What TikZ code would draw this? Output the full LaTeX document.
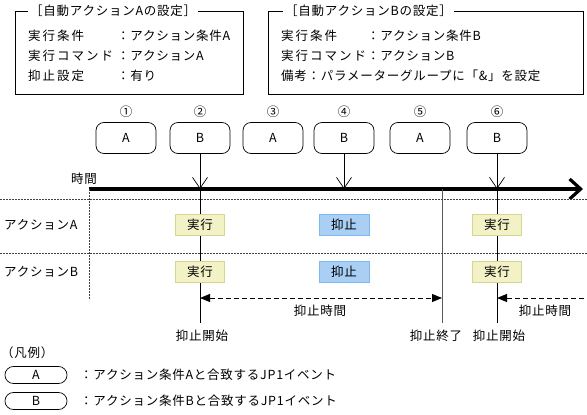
\documentclass[tikz,border=0pt]{standalone}
\usepackage{fontspec}
\setmainfont{Noto Sans CJK JP}[LetterSpace=6]
\usetikzlibrary{arrows.meta,positioning}
\definecolor{runfill}{HTML}{F2F2C6}
\definecolor{runline}{HTML}{D6D68E}
\definecolor{stopfill}{HTML}{A9CFF5}
\definecolor{stopline}{HTML}{7DB8F0}

\begin{document}
\begin{tikzpicture}[x=1pt,y=-1pt,
    font=\fontsize{12.5}{14}\selectfont,
    every node/.style={inner sep=0pt},
    setbox/.style={draw, line width=0.8pt},
    wide/.style={font=\fontsize{12.5}{14}\selectfont\addfontfeature{LetterSpace=16}},
    event/.style={draw, line width=0.7pt, rounded corners=8pt,
                  minimum width=60pt, minimum height=31pt},
    legbox/.style={draw, line width=0.7pt, rounded corners=8.4pt,
                   minimum width=62pt, minimum height=17pt},
    runbox/.style={draw=runline, fill=runfill, line width=0.8pt,
                   minimum width=49pt, minimum height=21pt},
    stopbox/.style={draw=stopline, fill=stopfill, line width=0.8pt,
                    minimum width=50pt, minimum height=21pt},
    hit/.style={line width=0.7pt, -{Straight Barb[length=11pt,width=15pt]}},
    grid/.style={draw=black!75, dash pattern=on 2pt off 1pt, line width=0.7pt},
    span/.style={line width=1pt, dash pattern=on 5pt off 3pt},
    spantip/.tip={Triangle[length=10pt,width=8pt]},
  ]
  \useasboundingbox (0,0) rectangle (587,415);

  % settings
  \draw[setbox] (15,11) rectangle (243,94);
  \node[fill=white, inner xsep=2pt, anchor=west] (titleA) at (28,11) {［自動アクションAの設定］};
  \node[wide, anchor=west] (condA) at (28,36) {実行条件};
  \node[anchor=west] (condAv) at (117,36) {：アクション条件A};
  \node[wide, anchor=west] (cmdA) at (28,56) {実行コマンド};
  \node[anchor=west] (cmdAv) at (117,56) {：アクションA};
  \node[wide, anchor=west] (supA) at (28,76) {抑止設定};
  \node[anchor=west] (supAv) at (117,76) {：有り};

  \draw[setbox] (268,11) rectangle (583,94);
  \node[fill=white, inner xsep=2pt, anchor=west] (titleB) at (283,11) {［自動アクションBの設定］};
  \node[wide, anchor=west] (condB) at (281,36) {実行条件};
  \node[anchor=west] (condBv) at (367,36) {：アクション条件B};
  \node[wide, anchor=west] (cmdB) at (281,56) {実行コマンド};
  \node[anchor=west] (cmdBv) at (367,56) {：アクションB};
  \node[anchor=west] (noteB) at (281,76) {備考：パラメーターグループに「\&」を設定};

  % events
  \foreach \i/\x/\c/\n in {1/126/A/①, 2/200/B/②, 3/273/A/③,
                           4/344/B/④, 5/420/A/⑤, 6/497/B/⑥} {
    \node[event] (e\i) at (\x,138) {\c};
    \node (n\i) at (\x,112) {\n};
  }

  % time axis
  \coordinate (t0) at (89,189);
  \coordinate (tend) at (583,189);
  \coordinate (t2) at (200,189);
  \coordinate (t4) at (344,189);
  \coordinate (t6) at (497,189);
  \coordinate (tq) at (442,189);
  \node (time) at (84,179) {時間};
  \draw[line width=3.2pt, -{Straight Barb[length=11pt,width=20pt]}] (t0) -- (tend);
  \draw[hit] (e2.south) -- (t2);
  \draw[hit] (e4.south) -- (t4);
  \draw[hit] (e6.south) -- (t6);

  \coordinate (b2) at (200,323);
  \coordinate (bq) at (442,323);
  \coordinate (b6) at (497,323);
  \draw[line width=0.8pt] (t2) -- (b2);
  \draw[line width=0.8pt] (t6) -- (b6);
  \draw[line width=1pt, black!65] (tq) -- (bq);

  % rows
  \coordinate (r1w) at (0,199);
  \coordinate (r1e) at (587,199);
  \coordinate (r2w) at (0,253);
  \coordinate (r2e) at (587,253);
  \coordinate (colb) at (89,300);
  \draw[grid] (r1w) -- (r1e);
  \draw[grid] (r2w) -- (r2e);
  \draw[grid] (t0) -- (colb);
  \node[anchor=west] (actA) at (4,225) {アクションA};
  \node[anchor=west] (actB) at (4,272) {アクションB};

  \node[runbox] (runA1) at (200,225) {実行};
  \node[runbox] (runB1) at (200,272) {実行};
  \node[stopbox] (stopA) at (344,225) {抑止};
  \node[stopbox] (stopB) at (344,272) {抑止};
  \node[runbox] (runA2) at (497,225) {実行};
  \node[runbox] (runB2) at (497,272) {実行};

  % suppression spans
  \coordinate (s1) at (200,298);
  \coordinate (s2) at (442,298);
  \coordinate (s3) at (497,298);
  \coordinate (s4) at (587,298);
  \draw[span, {spantip}-{spantip}] (s1) -- (s2);
  \draw[span, {spantip}-] (s3) -- (s4);
  \node (span1) at (320,311) {抑止時間};
  \node (span2) at (545,311) {抑止時間};

  \node (start1) at (202,336) {抑止開始};
  \node (stop1) at (436,336) {抑止終了};
  \node (start2) at (499,336) {抑止開始};

  % legend
  \node[anchor=west] (leg) at (1,353) {（凡例）};
  \node[legbox] (legA) at (36,375) {A};
  \node[legbox] (legB) at (36,401) {B};
  \node[anchor=west] (legAt) at (80,375) {：アクション条件Aと合致するJP1イベント};
  \node[anchor=west] (legBt) at (80,401) {：アクション条件Bと合致するJP1イベント};
\end{tikzpicture}
\end{document}
